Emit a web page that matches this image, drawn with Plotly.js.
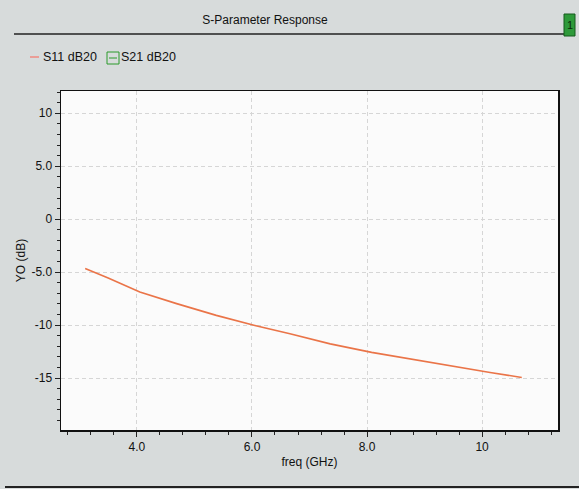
<!DOCTYPE html>
<html>
<head>
<meta charset="utf-8">
<script src="https://cdn.plot.ly/plotly-3.0.1.min.js"></script>
<style>
html,body{margin:0;padding:0;background:#d7dbdb;}
#chart{width:579px;height:489px;}
</style>
</head>
<body>
<div id="chart"></div>
<script>
// Data
const freqGHz = [3.10, 3.50, 4.05, 4.69, 5.38, 6.05, 6.66, 7.36, 8.08, 8.75, 9.44, 10.14, 10.69];
const s11dB  = [-4.65, -5.55, -6.87, -7.97, -9.08, -10.03, -10.82, -11.77, -12.57, -13.20, -13.83, -14.47, -14.94];
const s21dB  = [];
const seriesNames = ["S11 dB20", "S21 dB20"];
const xTickVals = [4, 6, 8, 10];
const xTickText = ["4.0", "6.0", "8.0", "10"];
const yTickVals = [10, 5, 0, -5, -10, -15];
const yTickText = ["10", "5.0", "0", "-5.0", "-10", "-15"];

const FONT = "Liberation Sans, Arial, sans-serif";
const L = 61, R = 558, T = 91, B = 430, W = 579, H = 489;
const px = x => (x - L) / (R - L);
const py = y => (B - y) / (B - T);

const traces = [
  {x: freqGHz, y: s11dB, type: "scatter", mode: "lines", name: seriesNames[0],
   line: {color: "#ea7448", width: 1.6}, showlegend: false},
  {x: freqGHz.slice(0, s21dB.length), y: s21dB, type: "scatter", mode: "lines", name: seriesNames[1],
   line: {color: "#2a9a2a", width: 1.6}, showlegend: false}
];

const axisCommon = {
  showline: true, mirror: true, linecolor: "#111", linewidth: 1.5,
  ticks: "outside", ticklen: 5, tickcolor: "#222", tickwidth: 1,
  showgrid: true, gridcolor: "#d6d6d6", griddash: "4px,3px", gridwidth: 1,
  zeroline: false, tickfont: {family: FONT, size: 12, color: "#111"},
  tickmode: "array"
};

const layout = {
  width: W, height: H,
  paper_bgcolor: "#d7dbdb", plot_bgcolor: "#fbfbfb",
  margin: {l: L, r: W - R, t: T, b: H - B, pad: 0},
  title: {text: "S-Parameter Response", font: {family: FONT, size: 12, color: "#111"},
          x: 265 / W, xanchor: "center", xref: "container", y: 1 - 20 / H, yanchor: "middle", yref: "container"},
  xaxis: Object.assign({}, axisCommon, {
    range: [2.68, 11.32], tickvals: xTickVals, ticktext: xTickText,
    minor: {tickmode: "linear", tick0: 0, dtick: 0.4, ticklen: 3, tickcolor: "#222", showgrid: false},
    title: {text: "freq (GHz)", font: {family: FONT, size: 12, color: "#111"}, standoff: 4}
  }),
  yaxis: Object.assign({}, axisCommon, {
    range: [-19.9, 12.1], tickvals: yTickVals, ticktext: yTickText,
    minor: {tickmode: "linear", tick0: 0, dtick: 1, ticklen: 3, tickcolor: "#222", showgrid: false},
    title: {text: "YO (dB)", font: {family: FONT, size: 12, color: "#111"}, standoff: 3}
  }),
  shapes: [
    {type: "line", xref: "paper", yref: "paper", x0: px(14), x1: px(565), y0: py(34), y1: py(34),
     line: {color: "#222", width: 1.5}},
    {type: "rect", xref: "paper", yref: "paper", x0: px(564), x1: px(575), y0: py(36), y1: py(14),
     fillcolor: "#2e9a3a", line: {color: "#145a1c", width: 1}},
    {type: "line", xref: "paper", yref: "paper", x0: px(5), x1: px(579), y0: py(487), y1: py(487),
     line: {color: "#222", width: 2}},
    // legend markers
    {type: "line", xref: "paper", yref: "paper", x0: px(30), x1: px(39), y0: py(57), y1: py(57),
     line: {color: "#f08a80", width: 1.5}},
    {type: "rect", xref: "paper", yref: "paper", x0: px(107), x1: px(119), y0: py(64), y1: py(52),
     fillcolor: "rgba(0,0,0,0)", line: {color: "#2a9a2a", width: 1}},
    {type: "line", xref: "paper", yref: "paper", x0: px(109), x1: px(117), y0: py(58), y1: py(58),
     line: {color: "#2a9a2a", width: 1}}
  ],
  annotations: [
    {text: "1", xref: "paper", yref: "paper", x: px(569.5), y: py(25), showarrow: false,
     font: {family: FONT, size: 11, color: "#0b2a0b"}, xanchor: "center", yanchor: "middle"},
    {text: seriesNames[0], xref: "paper", yref: "paper", x: px(41), y: py(57), showarrow: false,
     xanchor: "left", yanchor: "middle", font: {family: FONT, size: 12.5, color: "#111"}},
    {text: seriesNames[1], xref: "paper", yref: "paper", x: px(119), y: py(57), showarrow: false,
     xanchor: "left", yanchor: "middle", font: {family: FONT, size: 12.5, color: "#111"}}
  ]
};

Plotly.newPlot("chart", traces, layout, {displayModeBar: false, staticPlot: true});
</script>
</body>
</html>
